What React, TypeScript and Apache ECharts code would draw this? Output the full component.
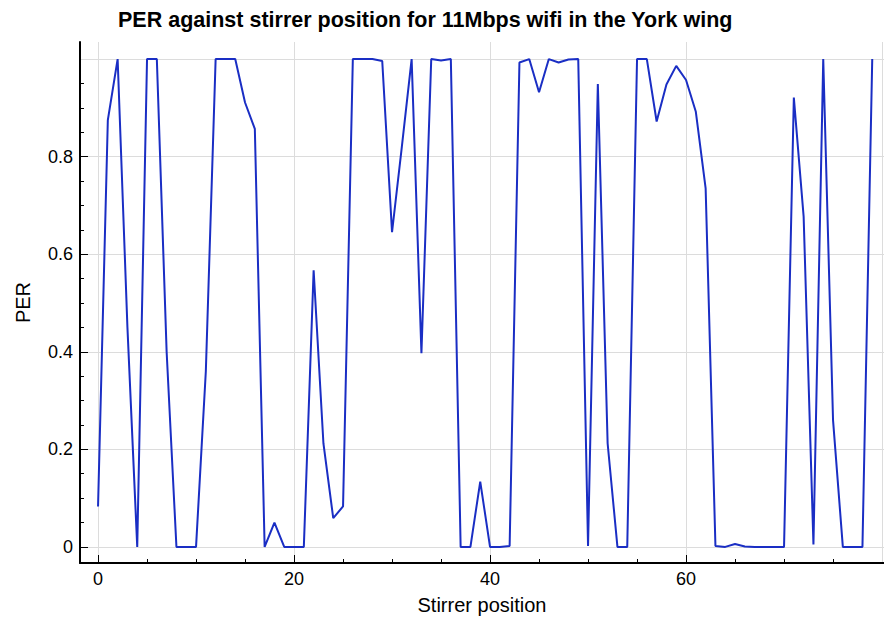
import React, { useEffect, useRef } from "react";
import * as echarts from "echarts";

const TITLE = "PER against stirrer position for 11Mbps wifi in the York wing";
const X_NAME = "Stirrer position";
const Y_NAME = "PER";

// PER value at each stirrer position 0..79
const perValues: number[] = [
  0.083, 0.875, 1.0, 0.45, 0.0, 1.0, 1.0, 0.4, 0.0, 0.0,
  0.0, 0.36, 1.0, 1.0, 1.0, 0.911, 0.857, 0.0, 0.05, 0.0,
  0.0, 0.0, 0.567, 0.212, 0.059, 0.083, 1.0, 1.0, 1.0, 0.996,
  0.645, 0.82, 1.0, 0.397, 1.0, 0.997, 1.0, 0.0, 0.0, 0.134,
  0.0, 0.0, 0.002, 0.993, 1.0, 0.932, 1.0, 0.993, 0.999, 1.0,
  0.002, 0.949, 0.212, 0.0, 0.0, 1.0, 1.0, 0.872, 0.948, 0.986,
  0.957, 0.892, 0.735, 0.002, 0.0, 0.006, 0.001, 0.0, 0.0, 0.0,
  0.0, 0.921, 0.677, 0.005, 1.0, 0.26, 0.0, 0.0, 0.0, 1.0,
];

const xMajorTicks = [0, 20, 40, 60];
const xGridLines = [0, 20, 40, 60, 80];
const xMinorTicks = [5, 10, 15, 25, 30, 35, 45, 50, 55, 65, 70, 75];
const yMajorTicks = [0, 0.2, 0.4, 0.6, 0.8];
const yGridLines = [0, 0.2, 0.4, 0.6, 0.8, 1.0];
const yMinorTicks = [0.05, 0.1, 0.15, 0.25, 0.3, 0.35, 0.45, 0.5, 0.55, 0.65, 0.7, 0.75, 0.85, 0.9, 0.95];

const X_MIN = -1.84;
const X_MAX = 80.2;
const Y_MIN = -0.033;
const Y_MAX = 1.035;

const FONT = "Liberation Sans, Arial, Helvetica, sans-serif";

export default function App() {
  const ref = useRef<HTMLDivElement>(null);
  useEffect(() => {
    if (!ref.current) return;
    const chart = echarts.init(ref.current, null, { renderer: "svg" });
    const hidden = { show: false };
    const hiddenLine = { show: false, onZero: false };
    const baseX = { type: "value", min: X_MIN, max: X_MAX, position: "bottom", gridIndex: 0 };
    const baseY = { type: "value", min: Y_MIN, max: Y_MAX, position: "left", gridIndex: 0 };
    chart.setOption({
      animation: false,
      backgroundColor: "#ffffff",
      textStyle: { fontFamily: FONT },
      title: {
        text: TITLE,
        left: 113,
        top: 4,
        textStyle: { fontSize: 21.5, fontWeight: "bold", color: "#000", fontFamily: FONT },
      },
      grid: { left: 80, right: 0, top: 42, bottom: 57, containLabel: false },
      xAxis: [
        {
          ...baseX,
          name: X_NAME,
          nameLocation: "middle",
          nameGap: 32,
          nameTextStyle: { fontSize: 20, color: "#000", fontFamily: FONT },
          axisLine: { show: true, onZero: false, lineStyle: { color: "#000", width: 2 } },
          axisTick: { show: true, inside: true, length: 8, customValues: xMajorTicks, lineStyle: { color: "#000", width: 1 } },
          axisLabel: { show: true, customValues: xMajorTicks, fontSize: 18, color: "#000", margin: 7, fontFamily: FONT },
          splitLine: hidden,
        },
        {
          ...baseX,
          axisLine: hiddenLine,
          axisTick: { show: true, inside: true, length: 4, customValues: xMinorTicks, lineStyle: { color: "#000", width: 1 } },
          axisLabel: hidden,
          splitLine: hidden,
        },
        {
          ...baseX,
          axisLine: hiddenLine,
          axisTick: { show: false, customValues: xGridLines },
          axisLabel: hidden,
          splitLine: { show: true, lineStyle: { color: "#dcdcdc", width: 1 } },
        },
      ],
      yAxis: [
        {
          ...baseY,
          name: Y_NAME,
          nameLocation: "middle",
          nameGap: 47,
          nameTextStyle: { fontSize: 20, color: "#000", fontFamily: FONT },
          axisLine: { show: true, onZero: false, lineStyle: { color: "#000", width: 2 } },
          axisTick: { show: true, inside: true, length: 8, customValues: yMajorTicks, lineStyle: { color: "#000", width: 1 } },
          axisLabel: { show: true, customValues: yMajorTicks, fontSize: 18, color: "#000", margin: 7, fontFamily: FONT },
          splitLine: hidden,
        },
        {
          ...baseY,
          axisLine: hiddenLine,
          axisTick: { show: true, inside: true, length: 4, customValues: yMinorTicks, lineStyle: { color: "#000", width: 1 } },
          axisLabel: hidden,
          splitLine: hidden,
        },
        {
          ...baseY,
          axisLine: hiddenLine,
          axisTick: { show: false, customValues: yGridLines },
          axisLabel: hidden,
          splitLine: { show: true, lineStyle: { color: "#dcdcdc", width: 1 } },
        },
      ],
      series: [
        {
          type: "line",
          xAxisIndex: 0,
          yAxisIndex: 0,
          data: perValues.map((v, i) => [i, v]),
          showSymbol: false,
          symbol: "none",
          lineStyle: { color: "#1a2ec4", width: 2 },
          clip: true,
          z: 5,
        },
      ],
    });
    return () => chart.dispose();
  }, []);
  return <div ref={ref} style={{ width: 884, height: 620, position: "absolute", left: 0, top: 0 }} />;
}
